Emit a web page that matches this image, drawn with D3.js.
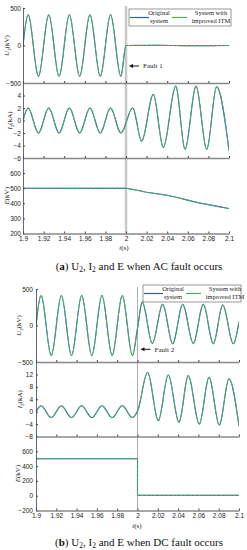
<!DOCTYPE html>
<html>
<head>
<meta charset="utf-8">
<script src="https://cdn.jsdelivr.net/npm/d3@7"></script>
<style>
  body { margin: 0; background: #fff; }
  svg { display: block; font-family: "Liberation Serif", "DejaVu Serif", serif; }
</style>
</head>
<body>
<svg id="chart" width="247" height="550"></svg>
<script>
var xTicks = [1.9, 1.92, 1.94, 1.96, 1.98, 2, 2.02, 2.04, 2.06, 2.08, 2.1];
var seriesNames = [["Original", "system"], ["System with", "improved ITM"]];
var seriesColors = ["#3550e8", "#4cb34f"];

// (a) AC fault, [t, value]
var acU2 = [[1.9, 0], [1.905, 410], [1.915, -410], [1.925, 410], [1.935, -410], [1.945, 410],
  [1.955, -410], [1.965, 410], [1.975, -410], [1.985, 410], [1.995, -410], [2.0, 0],
  [2.03, 2], [2.06, -2], [2.1, 0]];
var acI2 = [[1.9, 0], [1.905, 2], [1.915, -2], [1.925, 2], [1.935, -2], [1.945, 2],
  [1.955, -2], [1.965, 2], [1.975, -2], [1.985, 2], [1.995, -2], [2.0065, 2.0],
  [2.0152, -3.3], [2.0265, 4.2], [2.0362, -4.3], [2.0483, 5.5], [2.0573, -4.6],
  [2.068, 5.5], [2.0784, -4.6], [2.088, 5.4], [2.1, -4.8]];
var acE = [[1.9, 500], [1.95, 499], [2.0, 500], [2.01, 488], [2.02, 473], [2.03, 463],
  [2.04, 453], [2.05, 438], [2.06, 421], [2.07, 404], [2.08, 391], [2.09, 378], [2.1, 366]];

// (b) DC fault
var dcU2 = [[1.9, 0], [1.905, 410], [1.915, -410], [1.925, 410], [1.935, -410], [1.945, 410],
  [1.955, -410], [1.965, 410], [1.975, -410], [1.985, 410], [1.995, -410], [2.0, -40],
  [2.0047, 320], [2.0146, -245], [2.0248, 290], [2.0347, -250], [2.0445, 290],
  [2.055, -245], [2.0648, 290], [2.0747, -250], [2.084, 280], [2.0944, -250], [2.1, 50]];
var dcI2 = [[1.9, 0], [1.905, 1.9], [1.915, -1.9], [1.925, 1.9], [1.935, -1.9], [1.945, 1.9],
  [1.955, -1.9], [1.965, 1.9], [1.975, -1.9], [1.985, 1.9], [1.995, -1.9], [2.0, 0.2],
  [2.010, 12.6], [2.0205, -2.9], [2.0303, 11.8], [2.0409, -3.4], [2.050, 11.6],
  [2.0609, -4.0], [2.0705, 11.1], [2.0806, -4.3], [2.0901, 10.6], [2.1, -4.7]];
var dcE = [[1.9, 500], [2.0, 500], [2.0, 5], [2.1, 5]];

var u2Ticks = [-500, 0, 500];
var acI2Ticks = [-6, -4, -2, 0, 2, 4];
var acETicks = [200, 300, 400, 500, 600];
var dcI2Ticks = [-8, -4, 0, 4, 8, 12];
var dcETicks = [-200, 0, 200, 400, 600];

var svg = d3.select("#chart");

function drawFigure(fig) {
  var g = svg.append("g");
  var x = d3.scaleLinear().domain([1.9, 2.1]).range([fig.left, fig.right]);
  var top = fig.panels[0].top;
  var bottom = fig.panels[fig.panels.length - 1].bottom;

  // fault marker
  g.append("line")
    .attr("x1", x(2)).attr("x2", x(2))
    .attr("y1", top - 2).attr("y2", bottom)
    .attr("stroke", fig.markColor)
    .attr("stroke-width", fig.markWidth);

  fig.panels.forEach(function(p, i) {
    var y = d3.scaleLinear().domain(p.domain).range([p.bottom, p.top]);
    var clipId = fig.id + "clip" + i;
    g.append("clipPath").attr("id", clipId)
      .append("rect")
        .attr("x", fig.left).attr("y", p.top)
        .attr("width", fig.right - fig.left).attr("height", p.bottom - p.top);

    var line = d3.line()
      .x(d => x(d[0]))
      .y(d => y(d[1]))
      .curve(p.curve);

    // original underneath, improved ITM dashed on top
    seriesColors.forEach(function(c, k) {
      g.append("path")
        .datum(p.data)
        .attr("clip-path", "url(#" + clipId + ")")
        .attr("fill", "none")
        .attr("stroke", c)
        .attr("stroke-width", 1.1)
        .attr("stroke-dasharray", k == 1 ? "3.5,0.9" : null)
        .attr("d", line);
    });

    var yAxis = g.append("g")
      .attr("transform", "translate(" + fig.left + ",0)")
      .call(d3.axisLeft(y).tickValues(p.ticks).tickSize(-2).tickSizeOuter(0).tickPadding(fig.tickPad));
    yAxis.select(".domain").attr("stroke", "#444").attr("stroke-width", 0.8);
    yAxis.selectAll(".tick line").attr("stroke", "#444");
    yAxis.selectAll("text").attr("font-size", "6.5px").attr("fill", "#222");

    var last = i == fig.panels.length - 1;
    var xAxis = g.append("g")
      .attr("transform", "translate(0," + p.bottom + ")")
      .call(d3.axisBottom(x).tickValues(xTicks).tickSize(-2).tickSizeOuter(0).tickPadding(3)
        .tickFormat(last ? (d => String(d)) : ""));
    xAxis.select(".domain").attr("stroke", "#888").attr("stroke-width", 1.3);
    xAxis.selectAll(".tick line").attr("stroke", "#444");
    xAxis.selectAll("text").attr("font-size", "6.5px").attr("fill", "#222");

    // y label
    var lab = g.append("text")
      .attr("transform", "translate(" + p.labelX + "," + ((p.top + p.bottom) / 2) + ") rotate(-90)")
      .attr("text-anchor", "middle")
      .attr("font-size", "7px")
      .attr("fill", "#222");
    lab.append("tspan").attr("font-style", "italic").text(p.label[0]);
    if (p.label[1]) {
      lab.append("tspan").attr("font-size", "5px").attr("dy", 1.5).text(p.label[1]);
      lab.append("tspan").attr("dy", -1.5).text(p.label[2]);
    } else {
      lab.append("tspan").text(p.label[2]);
    }
  });

  // x label
  var xl = g.append("text")
    .attr("x", fig.xLabelX).attr("y", bottom + fig.xLabelDy)
    .attr("text-anchor", "middle")
    .attr("font-size", "7px").attr("fill", "#222");
  xl.append("tspan").attr("font-style", "italic").text("t");
  xl.append("tspan").text("(s)");

  // legend
  var lg = g.append("g").attr("transform", "translate(" + fig.legend[0] + "," + fig.legend[1] + ")");
  lg.append("rect")
    .attr("width", fig.legend[2]).attr("height", 17)
    .attr("fill", "#fff").attr("stroke", "#555").attr("stroke-width", 0.6);
  var slot = [[1, 20, 30], [43, 58, 82]];
  seriesColors.forEach(function(c, k) {
    lg.append("line")
      .attr("x1", slot[k][0]).attr("x2", slot[k][1])
      .attr("y1", 8.5).attr("y2", 8.5)
      .attr("stroke", c).attr("stroke-width", 1.2);
    seriesNames[k].forEach(function(s, r) {
      lg.append("text")
        .attr("x", slot[k][2]).attr("y", 6 + r * 8.3)
        .attr("text-anchor", "middle")
        .attr("font-size", "6.5px").attr("fill", "#222")
        .text(s);
    });
  });

  // fault annotation
  var fx = x(2) + 3;
  g.append("line")
    .attr("x1", fx + 10).attr("x2", fx + 2)
    .attr("y1", fig.fault[0]).attr("y2", fig.fault[0])
    .attr("stroke", "#111").attr("stroke-width", 1);
  g.append("path")
    .attr("d", "M" + fx + "," + fig.fault[0] + "l4,-2l0,4z")
    .attr("fill", "#111");
  g.append("text")
    .attr("x", fx + 14).attr("y", fig.fault[0] + 2.3)
    .attr("font-size", "7px").attr("fill", "#222")
    .text(fig.fault[1]);

  // caption
  var cap = g.append("text")
    .attr("x", fig.caption[0]).attr("y", fig.caption[1])
    .attr("text-anchor", "middle")
    .attr("font-size", "11px").attr("fill", "#111");
  cap.append("tspan").text("(");
  cap.append("tspan").attr("font-weight", "bold").text(fig.id);
  cap.append("tspan").text(") U");
  cap.append("tspan").attr("font-size", "7.5px").attr("dy", 2).text("2");
  cap.append("tspan").attr("dy", -2).text(", I");
  cap.append("tspan").attr("font-size", "7.5px").attr("dy", 2).text("2");
  cap.append("tspan").attr("dy", -2).text(fig.caption[2]);
}

drawFigure({
  id: "a", left: 23, right: 229, tickPad: 2,
  markColor: "#c9c9c9", markWidth: 2.5,
  xLabelX: 124, xLabelDy: 16.5,
  legend: [129, 9, 102],
  fault: [66, "Fault 1"],
  caption: [139, 269.5, " and E when AC fault occurs"],
  panels: [
    { top: 8, bottom: 83, domain: [-500, 500], ticks: u2Ticks, data: acU2,
      curve: d3.curveMonotoneX, label: ["U", "2", "(kV)"], labelX: 9 },
    { top: 83, bottom: 158, domain: [-6, 6], ticks: acI2Ticks, data: acI2,
      curve: d3.curveMonotoneX, label: ["I", "2", "(kA)"], labelX: 12 },
    { top: 158, bottom: 233.5, domain: [200, 700], ticks: acETicks, data: acE,
      curve: d3.curveLinear, label: ["E", "", "(kV)"], labelX: 9 }
  ]
});

drawFigure({
  id: "b", left: 36, right: 239, tickPad: 3,
  markColor: "#9a9a9a", markWidth: 0.8,
  xLabelX: 137, xLabelDy: 17.5,
  legend: [143, 285, 98],
  fault: [349.3, "Fault 2"],
  caption: [139, 545.5, " and E when DC fault occurs"],
  panels: [
    { top: 289, bottom: 362, domain: [-500, 500], ticks: u2Ticks, data: dcU2,
      curve: d3.curveMonotoneX, label: ["U", "2", "(kV)"], labelX: 21 },
    { top: 362, bottom: 436.5, domain: [-8, 16], ticks: dcI2Ticks, data: dcI2,
      curve: d3.curveMonotoneX, label: ["I", "2", "(kA)"], labelX: 22 },
    { top: 436.5, bottom: 510.5, domain: [-200, 800], ticks: dcETicks, data: dcE,
      curve: d3.curveLinear, label: ["E", "", "(kV)"], labelX: 20 }
  ]
});
</script>
</body>
</html>
